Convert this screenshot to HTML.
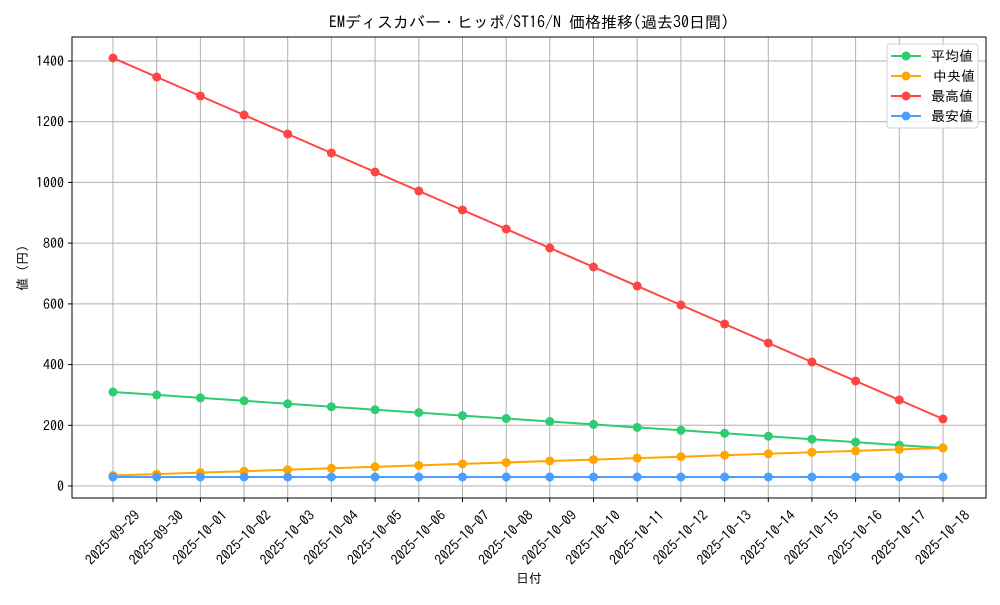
<!DOCTYPE html>
<html><head><meta charset="utf-8"><style>body{margin:0;background:#fff}svg{font-family:"IPAGothic","Liberation Sans","Noto Sans CJK JP",sans-serif}</style></head><body>
<svg width="1000" height="600" viewBox="0 0 1000 600" xmlns="http://www.w3.org/2000/svg">
<defs>
<marker id="mg" viewBox="0 0 10 10" refX="5" refY="5" markerWidth="10" markerHeight="10" markerUnits="userSpaceOnUse"><circle cx="5" cy="5" r="4.5" fill="#2ecc71"/></marker>
<marker id="mo" viewBox="0 0 10 10" refX="5" refY="5" markerWidth="10" markerHeight="10" markerUnits="userSpaceOnUse"><circle cx="5" cy="5" r="4.5" fill="#ffa500"/></marker>
<marker id="mr" viewBox="0 0 10 10" refX="5" refY="5" markerWidth="10" markerHeight="10" markerUnits="userSpaceOnUse"><circle cx="5" cy="5" r="4.5" fill="#ff4444"/></marker>
<marker id="mb" viewBox="0 0 10 10" refX="5" refY="5" markerWidth="10" markerHeight="10" markerUnits="userSpaceOnUse"><circle cx="5" cy="5" r="4.5" fill="#4a9eff"/></marker>
</defs>
<text x="529" y="28" font-size="16" text-anchor="middle">EMディスカバー・ヒッポ/ST16/N 価格推移(過去30日間)</text>
<g stroke="#b0b0b0" stroke-width="1">
<line x1="113" y1="37" x2="113" y2="498"/><line x1="156.7" y1="37" x2="156.7" y2="498"/><line x1="200.4" y1="37" x2="200.4" y2="498"/><line x1="244.1" y1="37" x2="244.1" y2="498"/><line x1="287.7" y1="37" x2="287.7" y2="498"/><line x1="331.4" y1="37" x2="331.4" y2="498"/><line x1="375.1" y1="37" x2="375.1" y2="498"/><line x1="418.8" y1="37" x2="418.8" y2="498"/><line x1="462.5" y1="37" x2="462.5" y2="498"/><line x1="506.2" y1="37" x2="506.2" y2="498"/><line x1="549.8" y1="37" x2="549.8" y2="498"/><line x1="593.5" y1="37" x2="593.5" y2="498"/><line x1="637.2" y1="37" x2="637.2" y2="498"/><line x1="680.9" y1="37" x2="680.9" y2="498"/><line x1="724.6" y1="37" x2="724.6" y2="498"/><line x1="768.3" y1="37" x2="768.3" y2="498"/><line x1="811.9" y1="37" x2="811.9" y2="498"/><line x1="855.6" y1="37" x2="855.6" y2="498"/><line x1="899.3" y1="37" x2="899.3" y2="498"/><line x1="943" y1="37" x2="943" y2="498"/>
<line x1="72" y1="486" x2="986" y2="486"/><line x1="72" y1="425.3" x2="986" y2="425.3"/><line x1="72" y1="364.6" x2="986" y2="364.6"/><line x1="72" y1="303.9" x2="986" y2="303.9"/><line x1="72" y1="243.1" x2="986" y2="243.1"/><line x1="72" y1="182.4" x2="986" y2="182.4"/><line x1="72" y1="121.7" x2="986" y2="121.7"/><line x1="72" y1="61" x2="986" y2="61"/>
</g>
<g fill="none" stroke-width="2">
<polyline stroke="#ff4444" marker-start="url(#mr)" marker-mid="url(#mr)" marker-end="url(#mr)" points="113,58 156.7,77 200.4,96 244.1,115 287.7,134 331.4,153 375.1,172 418.8,191 462.5,210 506.2,229 549.8,248 593.5,267 637.2,286 680.9,305 724.6,324 768.3,343 811.9,362 855.6,381 899.3,400 943,419"/>
<polyline stroke="#2ecc71" marker-start="url(#mg)" marker-mid="url(#mg)" marker-end="url(#mg)" points="113,392 156.7,394.9 200.4,397.9 244.1,400.8 287.7,403.8 331.4,406.7 375.1,409.7 418.8,412.6 462.5,415.6 506.2,418.5 549.8,421.5 593.5,424.4 637.2,427.4 680.9,430.3 724.6,433.3 768.3,436.2 811.9,439.2 855.6,442.1 899.3,445.1 943,448"/>
<polyline stroke="#ffa500" marker-start="url(#mo)" marker-mid="url(#mo)" marker-end="url(#mo)" points="113,475.5 156.7,474.1 200.4,472.6 244.1,471.2 287.7,469.7 331.4,468.3 375.1,466.8 418.8,465.4 462.5,463.9 506.2,462.5 549.8,461 593.5,459.6 637.2,458.1 680.9,456.7 724.6,455.2 768.3,453.8 811.9,452.3 855.6,450.9 899.3,449.4 943,448"/>
<polyline stroke="#4a9eff" marker-start="url(#mb)" marker-mid="url(#mb)" marker-end="url(#mb)" points="113,477 156.7,477 200.4,477 244.1,477 287.7,477 331.4,477 375.1,477 418.8,477 462.5,477 506.2,477 549.8,477 593.5,477 637.2,477 680.9,477 724.6,477 768.3,477 811.9,477 855.6,477 899.3,477 943,477"/>
</g>
<rect x="72" y="37" width="914" height="461" fill="none" stroke="#000" stroke-width="1"/>
<g stroke="#000"><line x1="68" y1="486" x2="72" y2="486"/><line x1="68" y1="425.3" x2="72" y2="425.3"/><line x1="68" y1="364.6" x2="72" y2="364.6"/><line x1="68" y1="303.9" x2="72" y2="303.9"/><line x1="68" y1="243.1" x2="72" y2="243.1"/><line x1="68" y1="182.4" x2="72" y2="182.4"/><line x1="68" y1="121.7" x2="72" y2="121.7"/><line x1="68" y1="61" x2="72" y2="61"/></g>
<g font-size="14" text-anchor="end">
<text x="64" y="491">0</text><text x="64" y="430.3">200</text><text x="64" y="369.6">400</text><text x="64" y="308.9">600</text><text x="64" y="248.1">800</text><text x="64" y="187.4">1000</text><text x="64" y="126.7">1200</text><text x="64" y="66">1400</text>
</g>
<g font-size="14" text-anchor="middle">
<text transform="translate(116,541) rotate(-45)">2025-09-29</text><text transform="translate(159.7,541) rotate(-45)">2025-09-30</text><text transform="translate(203.4,541) rotate(-45)">2025-10-01</text><text transform="translate(247.1,541) rotate(-45)">2025-10-02</text><text transform="translate(290.7,541) rotate(-45)">2025-10-03</text><text transform="translate(334.4,541) rotate(-45)">2025-10-04</text><text transform="translate(378.1,541) rotate(-45)">2025-10-05</text><text transform="translate(421.8,541) rotate(-45)">2025-10-06</text><text transform="translate(465.5,541) rotate(-45)">2025-10-07</text><text transform="translate(509.2,541) rotate(-45)">2025-10-08</text><text transform="translate(552.8,541) rotate(-45)">2025-10-09</text><text transform="translate(596.5,541) rotate(-45)">2025-10-10</text><text transform="translate(640.2,541) rotate(-45)">2025-10-11</text><text transform="translate(683.9,541) rotate(-45)">2025-10-12</text><text transform="translate(727.6,541) rotate(-45)">2025-10-13</text><text transform="translate(771.3,541) rotate(-45)">2025-10-14</text><text transform="translate(814.9,541) rotate(-45)">2025-10-15</text><text transform="translate(858.6,541) rotate(-45)">2025-10-16</text><text transform="translate(902.3,541) rotate(-45)">2025-10-17</text><text transform="translate(946,541) rotate(-45)">2025-10-18</text>
</g>
<g stroke="#000"><line x1="113" y1="498" x2="113" y2="502"/><line x1="156.7" y1="498" x2="156.7" y2="502"/><line x1="200.4" y1="498" x2="200.4" y2="502"/><line x1="244.1" y1="498" x2="244.1" y2="502"/><line x1="287.7" y1="498" x2="287.7" y2="502"/><line x1="331.4" y1="498" x2="331.4" y2="502"/><line x1="375.1" y1="498" x2="375.1" y2="502"/><line x1="418.8" y1="498" x2="418.8" y2="502"/><line x1="462.5" y1="498" x2="462.5" y2="502"/><line x1="506.2" y1="498" x2="506.2" y2="502"/><line x1="549.8" y1="498" x2="549.8" y2="502"/><line x1="593.5" y1="498" x2="593.5" y2="502"/><line x1="637.2" y1="498" x2="637.2" y2="502"/><line x1="680.9" y1="498" x2="680.9" y2="502"/><line x1="724.6" y1="498" x2="724.6" y2="502"/><line x1="768.3" y1="498" x2="768.3" y2="502"/><line x1="811.9" y1="498" x2="811.9" y2="502"/><line x1="855.6" y1="498" x2="855.6" y2="502"/><line x1="899.3" y1="498" x2="899.3" y2="502"/><line x1="943" y1="498" x2="943" y2="502"/></g>
<text x="529" y="583" font-size="13" text-anchor="middle">日付</text>
<text transform="translate(27,268) rotate(-90)" font-size="13" text-anchor="middle">値 (円)</text>
<rect x="887" y="44" width="91" height="84" rx="3" fill="#fff" fill-opacity="0.85" stroke="#d0d0d0"/>
<g stroke-width="2">
<line x1="891" y1="56" x2="921" y2="56" stroke="#2ecc71"/><circle cx="906" cy="56" r="4.5" fill="#2ecc71"/>
<line x1="891" y1="76" x2="921" y2="76" stroke="#ffa500"/><circle cx="906" cy="76" r="4.5" fill="#ffa500"/>
<line x1="891" y1="96" x2="921" y2="96" stroke="#ff4444"/><circle cx="906" cy="96" r="4.5" fill="#ff4444"/>
<line x1="891" y1="116" x2="921" y2="116" stroke="#4a9eff"/><circle cx="906" cy="116" r="4.5" fill="#4a9eff"/>
</g>
<g font-size="14"><text x="931" y="61">平均値</text><text x="933" y="81">中央値</text><text x="931" y="101">最高値</text><text x="931" y="121">最安値</text></g>
</svg>
</body></html>
